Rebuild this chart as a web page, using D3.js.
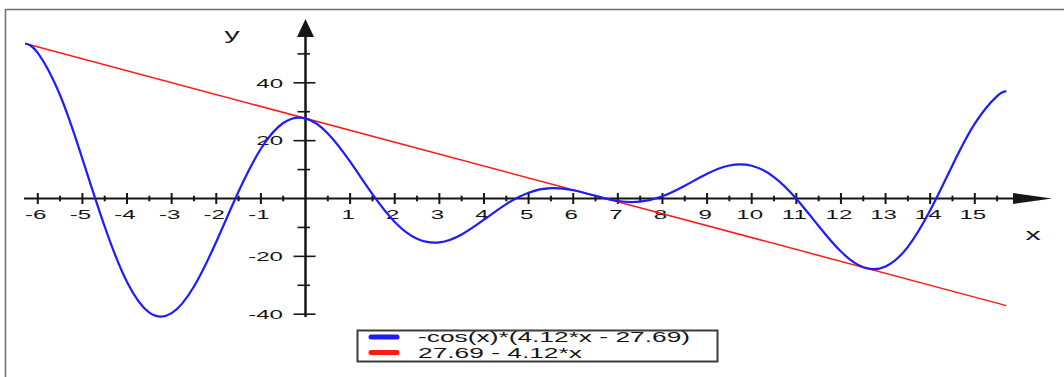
<!DOCTYPE html>
<html>
<head>
<meta charset="utf-8">
<script src="https://cdn.jsdelivr.net/npm/d3@7"></script>
<style>
  html, body { margin: 0; padding: 0; background: #fff; }
  svg { display: block; }
  text { font-family: "Liberation Sans", Arial, sans-serif; fill: #151515; }
</style>
</head>
<body>
<svg id="chart" width="1064" height="377"></svg>
<script>
// ---- data ----
const curveX = [-6.2832, -6, -5.5, -5, -4.5, -4, -3.5, -3, -2.5, -2, -1.5, -1, -0.5, 0,
  0.5, 1, 1.5, 2, 2.5, 3, 3.5, 4, 4.5, 5, 5.5, 6, 6.5, 7, 7.5, 8, 8.5, 9, 9.5, 10,
  10.5, 11, 11.5, 12, 12.5, 13, 13.5, 14, 14.5, 15, 15.5, 15.708];
const curveY = [53.58, 50.32, 35.68, 13.70, -9.75, -28.87, -39.43, -39.65, -30.44, -14.95,
  2.40, 17.19, 26.11, 27.69, 22.49, 12.73, 1.52, -8.09, -13.93, -15.18, -12.43, -7.33,
  -1.93, 2.01, 3.56, 2.85, 0.89, -0.87, -1.11, 0.77, 4.41, 8.56, 11.42, 11.34, 7.40,
  -0.08, -9.52, -18.35, -23.76, -23.48, -16.72, -4.10, 11.53, 25.91, 35.39, 37.03];
const lineX = [-6.2832, 15.708];
const lineY = [53.58, -37.03];
const xMajorTicks = [-6, -5, -4, -3, -2, -1, 1, 2, 3, 4, 5, 6, 7, 8, 9, 10, 11, 12, 13, 14, 15];
const xMinorTicks = [-5.5, -4.5, -3.5, -2.5, -1.5, -0.5, 0.5, 1.5, 2.5, 3.5, 4.5, 5.5, 6.5,
  7.5, 8.5, 9.5, 10.5, 11.5, 12.5, 13.5, 14.5, 15.5];
const yMajorTicks = [-40, -20, 20, 40];
const yMinorTicks = [-30, -10, 10, 30, 50];
const legendLabels = ["-cos(x)*(4.12*x - 27.69)", "27.69 - 4.12*x"];
const seriesColors = ["#1c1cff", "#ff1a1a"];

// ---- drawing ----
const svg = d3.select("#chart");
const x = d3.scaleLinear().domain([0, 15]).range([305.5, 974.8]);
const y = d3.scaleLinear().domain([-40, 40]).range([314.2, 82.8]);
const SX = 1.85; // horizontal stretch of the reference's glyphs
const axisColor = "#161616";

// frame
svg.append("rect").attr("x", 5.5).attr("y", 9.5).attr("width", 1200).attr("height", 500)
  .attr("fill", "none").attr("stroke", "#6e6e6e").attr("stroke-width", 1.5);

const x0 = x(0), y0 = y(0);

// x axis line + arrow
svg.append("line").attr("x1", 24).attr("x2", 1014).attr("y1", y0).attr("y2", y0)
  .attr("stroke", axisColor).attr("stroke-width", 2);
svg.append("path").attr("d", `M1052,${y0} L1013,${y0 - 5.5} L1013,${y0 + 5.5} Z`).attr("fill", axisColor);

// y axis line + arrow
svg.append("line").attr("x1", x0).attr("x2", x0).attr("y1", 36).attr("y2", 317)
  .attr("stroke", axisColor).attr("stroke-width", 2.5);
svg.append("path").attr("d", `M${x0},19 L${x0 - 8.5},37 L${x0 + 8.5},37 Z`).attr("fill", axisColor);

// x ticks
svg.append("g").selectAll("line").data(xMajorTicks).join("line")
  .attr("x1", d => x(d)).attr("x2", d => x(d)).attr("y1", y0 - 5.5).attr("y2", y0 + 5.5)
  .attr("stroke", axisColor).attr("stroke-width", 2);
svg.append("g").selectAll("line").data(xMinorTicks).join("line")
  .attr("x1", d => x(d)).attr("x2", d => x(d)).attr("y1", y0 - 2.8).attr("y2", y0 + 2.8)
  .attr("stroke", axisColor).attr("stroke-width", 2);

// y ticks
svg.append("g").selectAll("line").data(yMajorTicks).join("line")
  .attr("x1", x0 - 12).attr("x2", x0 + 10).attr("y1", d => y(d)).attr("y2", d => y(d))
  .attr("stroke", axisColor).attr("stroke-width", 1.6);
svg.append("g").selectAll("line").data(yMinorTicks).join("line")
  .attr("x1", x0 - 8).attr("x2", x0 + 4.5).attr("y1", d => y(d)).attr("y2", d => y(d))
  .attr("stroke", axisColor).attr("stroke-width", 1.6);

// tick labels
svg.append("g").selectAll("text").data(xMajorTicks).join("text")
  .attr("transform", d => `translate(${x(d) - 2},218.5) scale(${SX},1)`)
  .attr("text-anchor", "middle").attr("font-size", 13).text(d => String(d));
svg.append("g").selectAll("text").data(yMajorTicks).join("text")
  .attr("transform", d => `translate(283,${y(d) + 4.8}) scale(${SX},1)`)
  .attr("text-anchor", "end").attr("font-size", 13).text(d => String(d));

// axis titles
svg.append("text").attr("transform", `translate(232,40) scale(1.9,1)`)
  .attr("text-anchor", "middle").attr("font-size", 16).text("y");
svg.append("text").attr("transform", `translate(1033,239.5) scale(1.9,1)`)
  .attr("text-anchor", "middle").attr("font-size", 16).text("x");

// series
const gen = d3.line().x(d => x(d[0])).y(d => y(d[1]));
svg.append("path").datum(lineX.map((v, i) => [v, lineY[i]]))
  .attr("d", gen).attr("fill", "none").attr("stroke", seriesColors[1]).attr("stroke-width", 1.5);
svg.append("path").datum(curveX.map((v, i) => [v, curveY[i]]))
  .attr("d", gen.curve(d3.curveNatural)).attr("fill", "none")
  .attr("stroke", seriesColors[0]).attr("stroke-width", 2.2);

// legend
const lg = svg.append("g");
lg.append("rect").attr("x", 357.5).attr("y", 330.5).attr("width", 360).attr("height", 31)
  .attr("fill", "#fff").attr("stroke", "#3c3c3c").attr("stroke-width", 2);
legendLabels.forEach((lab, i) => {
  const ly = 337 + i * 15.5;
  lg.append("line").attr("x1", 371).attr("x2", 397).attr("y1", ly).attr("y2", ly)
    .attr("stroke", seriesColors[i]).attr("stroke-width", 5).attr("stroke-linecap", "round");
  lg.append("text").attr("transform", `translate(418,${ly + 5}) scale(1.88,1)`)
    .attr("font-size", 14).text(lab);
});
</script>
</body>
</html>
